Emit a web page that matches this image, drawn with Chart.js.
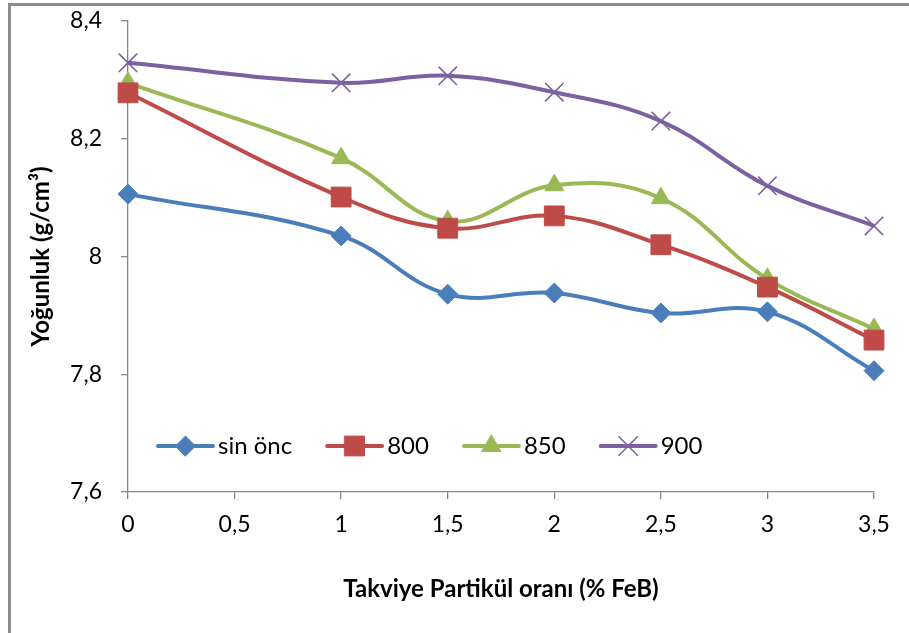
<!DOCTYPE html>
<html>
<head>
<meta charset="utf-8">
<script src="https://cdn.jsdelivr.net/npm/chart.js@4.4.1/dist/chart.umd.min.js"></script>
<style>
    html, body { margin: 0; padding: 0; background: #fff; overflow: hidden; }
    #wrap { position: relative; width: 909px; height: 633px; }
    #frame {
        position: absolute; left: 8px; top: 3px; width: 1200px; height: 1200px;
        border-left: 3px solid #8c8c8c; border-top: 3px solid #8c8c8c;
        pointer-events: none;
    }
</style>
</head>
<body>
<div id="wrap">
    <canvas id="grafico" width="909" height="633"></canvas>
    <div id="frame"></div>
</div>
<script>
// datos
const oranlar = [0, 1, 1.5, 2, 2.5, 3, 3.5];
const sinOnc = [8.106, 8.035, 7.936, 7.938, 7.904, 7.906, 7.806];
const seri800 = [8.278, 8.101, 8.048, 8.069, 8.020, 7.948, 7.858];
const seri850 = [8.295, 8.167, 8.060, 8.121, 8.099, 7.962, 7.877];
const seri900 = [8.329, 8.295, 8.307, 8.279, 8.230, 8.120, 8.052];

const etiquetasSeries = ["sin önc", "800", "850", "900"];
const etiquetasY = ["7,6", "7,8", "8", "8,2", "8,4"];
const etiquetasX = ["0", "0,5", "1", "1,5", "2", "2,5", "3", "3,5"];

const FUENTE = "Lato, 'Open Sans', sans-serif";

const estilos = [
    { color: "#4a7ebb", pointStyle: "rectRot", radius: 10, borderWidth: 1 },
    { color: "#be4b48", pointStyle: "rect", radius: 14, borderWidth: 1 },
    { color: "#98b954", pointStyle: "triangle", radius: 11, borderWidth: 1 },
    { color: "#7d60a0", pointStyle: "crossRot", radius: 13, borderWidth: 1.6 }
];

const valores = [sinOnc, seri800, seri850, seri900];

const datasets = valores.map((serie, i) => ({
    label: etiquetasSeries[i],
    data: serie.map((v, j) => ({ x: oranlar[j], y: v })),
    borderColor: estilos[i].color,
    backgroundColor: estilos[i].color,
    borderWidth: 4,
    tension: 0.4,
    pointStyle: estilos[i].pointStyle,
    pointRadius: estilos[i].radius,
    pointBorderWidth: estilos[i].borderWidth,
    pointBackgroundColor: estilos[i].color,
    pointBorderColor: estilos[i].color,
    clip: false
}));

// leyenda dentro del area del grafico (linea + marcador)
const leyendaInterna = {
    id: "leyendaInterna",
    afterDatasetsDraw(chart) {
        const ctx = chart.ctx;
        const area = chart.chartArea;
        let x = area.left + 30;
        const y = area.top + 425;
        ctx.save();
        ctx.font = "24px " + FUENTE;
        ctx.textBaseline = "middle";
        chart.data.datasets.forEach((ds, i) => {
            ctx.strokeStyle = estilos[i].color;
            ctx.lineWidth = 4;
            ctx.lineCap = "round";
            ctx.beginPath();
            ctx.moveTo(x, y);
            ctx.lineTo(x + 55, y);
            ctx.stroke();
            ctx.fillStyle = estilos[i].color;
            ctx.lineWidth = estilos[i].borderWidth;
            Chart.helpers.drawPoint(ctx, {
                pointStyle: estilos[i].pointStyle,
                radius: estilos[i].radius,
                borderWidth: estilos[i].borderWidth,
                rotation: 0
            }, x + 27.5, y);
            ctx.fillStyle = "#000";
            ctx.fillText(ds.label, x + 60, y);
            x += 60 + ctx.measureText(ds.label).width + 35;
        });
        ctx.restore();
    }
};

new Chart(document.getElementById("grafico"), {
    type: "line",
    data: { datasets: datasets },
    options: {
        responsive: false,
        animation: false,
        layout: { padding: { top: 21, right: 35, left: 0, bottom: 0 } },
        plugins: {
            legend: { display: false },
            tooltip: { enabled: false }
        },
        scales: {
            x: {
                type: "linear",
                min: 0,
                max: 3.5,
                afterFit: (scale) => {
                    scale.height = 141;
                    scale.paddingLeft = 0;
                    scale.paddingRight = 0;
                },
                afterBuildTicks: (scale) => {
                    scale.ticks = etiquetasX.map((t, i) => ({ value: i * 0.5 }));
                },
                ticks: {
                    padding: 12,
                    color: "#000",
                    font: { family: FUENTE, size: 23 },
                    callback: (v, i) => etiquetasX[i]
                },
                grid: { drawOnChartArea: false, tickLength: 7, color: "#868686", lineWidth: 1.3 },
                border: { color: "#868686", width: 1.3 },
                title: {
                    display: true,
                    text: "Takviye Partikül oranı (% FeB)",
                    color: "#000",
                    font: { family: FUENTE, size: 24, weight: "bold" },
                    padding: { top: 0, bottom: 29 }
                }
            },
            y: {
                min: 7.6,
                max: 8.4,
                afterFit: (scale) => {
                    scale.width = 128;
                    scale.paddingTop = 0;
                    scale.paddingBottom = 0;
                },
                afterBuildTicks: (scale) => {
                    scale.ticks = etiquetasY.map((t, i) => ({ value: 7.6 + i * 0.2 }));
                },
                ticks: {
                    padding: 19,
                    color: "#000",
                    font: { family: FUENTE, size: 23 },
                    callback: (v, i) => etiquetasY[i]
                },
                grid: { drawOnChartArea: false, tickLength: 7, color: "#868686", lineWidth: 1.3 },
                border: { color: "#868686", width: 1.3 },
                title: {
                    display: true,
                    text: "Yoğunluk (g/cm³)",
                    color: "#000",
                    font: { family: FUENTE, size: 24, weight: "bold" },
                    padding: { top: 27, bottom: 0 }
                }
            }
        }
    },
    plugins: [leyendaInterna]
});
</script>
</body>
</html>
